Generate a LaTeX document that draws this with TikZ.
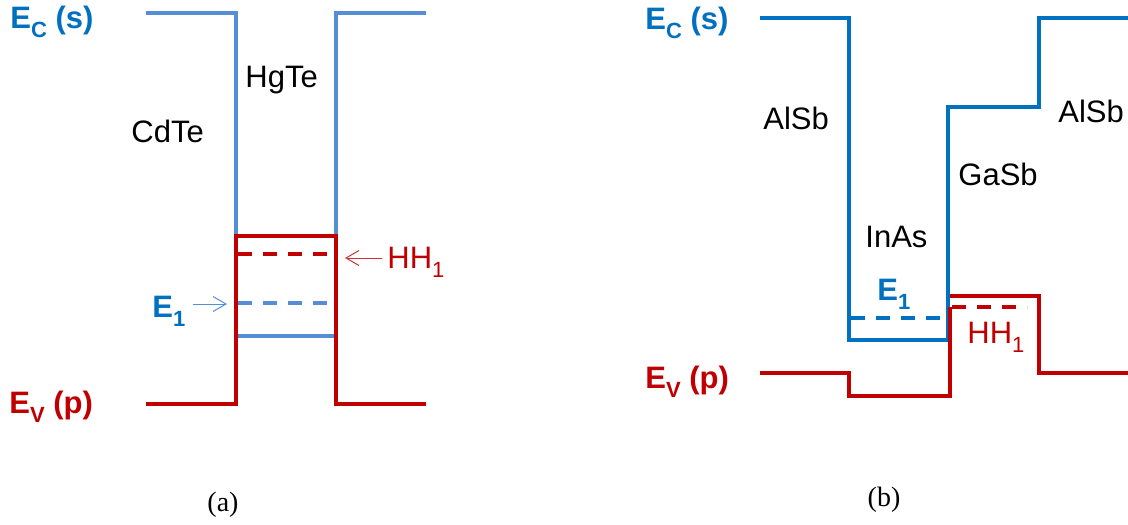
\documentclass[tikz,border=0pt]{standalone}
\usepackage{fontspec}
\setmainfont{Liberation Sans}
\newfontfamily\capfont{Liberation Serif}
\usetikzlibrary{arrows.meta}
\definecolor{lightblue}{RGB}{85,142,213}
\definecolor{deepblue}{RGB}{0,112,192}
\definecolor{bandred}{RGB}{192,0,0}
\newcommand{\lowsub}[1]{\raisebox{-4.5pt}{\fontsize{11}{11}\selectfont #1}}

\begin{document}
\begin{tikzpicture}[x=0.5pt,y=-0.5pt,>={Straight Barb[length=6.5pt,width=7.5pt]},
  every node/.style={font=\fontsize{15.5}{18}\selectfont,inner sep=0pt,anchor=base west},
  band/.style={line width=1.6pt},
  level/.style={line width=1.6pt,dash pattern=on 7pt off 5.5pt},
  ptr/.style={->,line width=0.5pt},
  bandlabel/.style={font=\fontsize{15.5}{18}\selectfont\bfseries}]
  \useasboundingbox (0,0) rectangle (1128,524);
  % (a) CdTe/HgTe
  \draw[band,lightblue](146,13)--(236,13)--(236,336)--(336,336)--(336,13)--(426,13);
  \draw[band,bandred](146,404)--(236,404)--(236,236)--(336,236)--(336,404)--(426,404);
  \draw[level,bandred](238,254)--(334,254);
  \draw[level,lightblue](238,303)--(336,303);
  \node[bandlabel,deepblue] (eca) at (10,29){E\lowsub{C} (s)};
  \node[bandlabel,bandred] (eva) at (9,413){E\lowsub{V} (p)};
  \node (cdte) at (131,142){CdTe};
  \node (hgte) at (245,88){HgTe};
  \node[bandlabel,deepblue] (e1a) at (152,317){E\lowsub{1}};
  \node[bandred] (hh1a) at (387,268){HH\lowsub{1}};
  \coordinate (e1tip) at (227,304);
  \coordinate (hh1tip) at (345,258);
  \draw[ptr,lightblue,shorten <=3.5pt](e1a.east |- e1tip)--(e1tip);
  \draw[ptr,bandred!80,shorten <=2.5pt](hh1a.west |- hh1tip)--(hh1tip);
  \node[font=\capfont\fontsize{14}{16}\selectfont,anchor=center] (capa) at (223,505){(a)};
  % (b) AlSb/InAs/GaSb
  \draw[band,deepblue](760,18)--(849,18)--(849,340)--(948,340)--(948,107)--(1039,107)--(1039,18)--(1128,18);
  \draw[band,bandred](760,373)--(849,373)--(849,396)--(950,396)--(950,307);
  \draw[band,bandred](950,296)--(1039,296)--(1039,373)--(1128,373);
  \draw[level,deepblue](851,318)--(946,318);
  \draw[level,bandred](952,307)--(1027,307);
  \node[bandlabel,deepblue] (ecb) at (645,30){E\lowsub{C} (s)};
  \node[bandlabel,bandred] (evb) at (645,388){E\lowsub{V} (p)};
  \node (alsbl) at (763,129){AlSb};
  \node (inas) at (865,247){InAs};
  \node (gasb) at (958,185){GaSb};
  \node (alsbr) at (1058,122){AlSb};
  \node[bandlabel,deepblue] (e1b) at (877,300){E\lowsub{1}};
  \node[bandred] (hh1b) at (967,343){HH\lowsub{1}};
  \node[font=\capfont\fontsize{14}{16}\selectfont,anchor=center] (capb) at (884,500){(b)};
\end{tikzpicture}
\end{document}
